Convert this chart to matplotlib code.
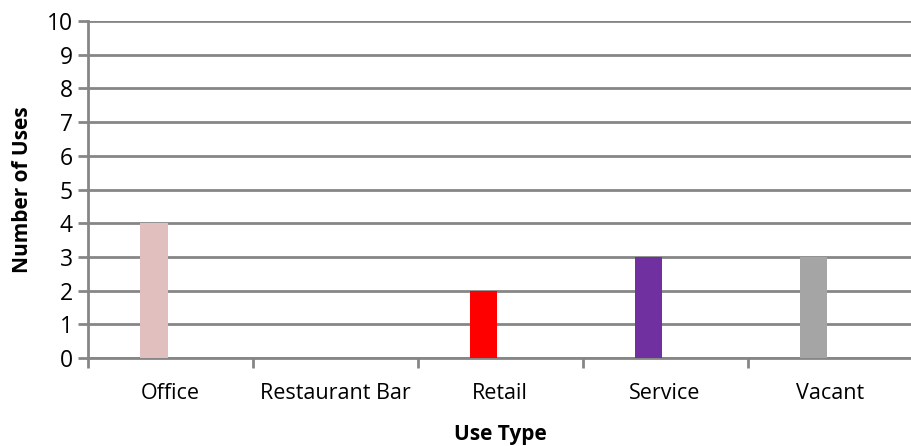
import numpy as np
import matplotlib.pyplot as plt

use_types = ['Office', 'Restaurant Bar', 'Retail', 'Service', 'Vacant']
num_uses = [4, 0, 2, 3, 3]
bar_colors = ['#e2bfbf', '#c0504d', '#ff0000', '#7030a0', '#a5a5a5']

plt.rcParams['font.family'] = ['Open Sans', 'DejaVu Sans']

fig = plt.figure(figsize=(9.11, 4.46), dpi=100)
ax = fig.add_axes([0.0966, 0.197, 0.905, 0.756])

x = np.arange(len(use_types))
ax.bar(x - 0.1, num_uses, width=0.165, color=bar_colors, zorder=3)

ax.set_xlim(-0.5, len(use_types) - 0.5)
ax.set_ylim(0, 10)
ax.set_yticks(range(0, 11))
ax.yaxis.grid(True, color='#868686', linewidth=2)
ax.set_axisbelow(True)

# category labels between the boundary ticks
ax.set_xticks(np.arange(len(use_types) + 1) - 0.5)
ax.set_xticklabels([])
ax.set_xticks(x, minor=True)
ax.set_xticklabels(use_types, minor=True)
ax.tick_params(axis='x', which='minor', length=0, pad=18, labelsize=15.5)
ax.tick_params(axis='x', which='major', length=7, width=2, color='#868686')
ax.tick_params(axis='y', length=7, width=2, color='#868686', labelsize=16.5, pad=4)

for s in ['top', 'right']:
    ax.spines[s].set_visible(False)
for s in ['left', 'bottom']:
    ax.spines[s].set_color('#868686')
    ax.spines[s].set_linewidth(2)

ax.set_xlabel('Use Type', fontsize=15, fontweight='bold', labelpad=14)
ax.set_ylabel('Number of Uses', fontsize=15, fontweight='bold', labelpad=10)

fig.savefig('out.png', dpi=100)
